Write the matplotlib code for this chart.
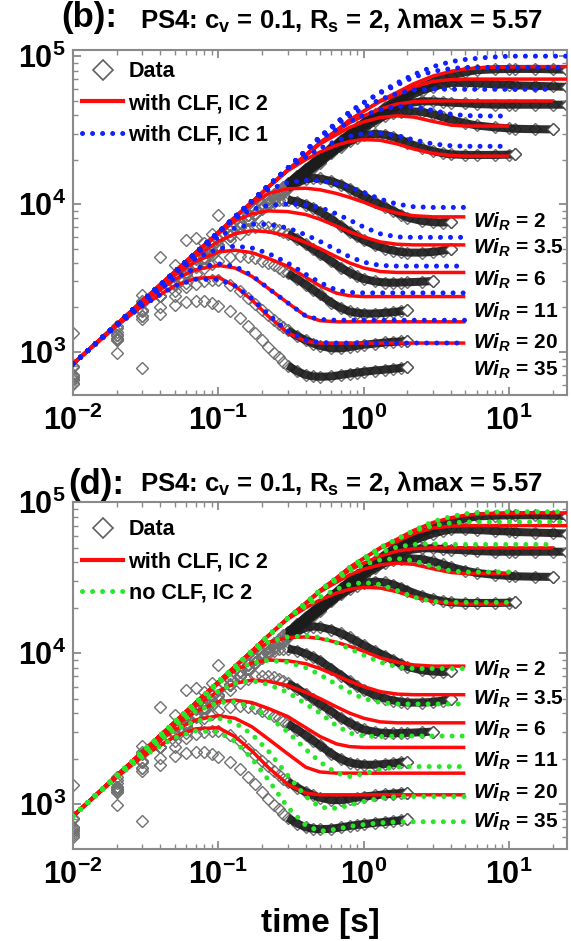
import numpy as np
import matplotlib
matplotlib.use("Agg")
import matplotlib.pyplot as plt
from matplotlib.lines import Line2D
from matplotlib.ticker import FixedLocator, FixedFormatter, LogLocator, NullFormatter

plt.rcParams['font.family'] = ['Liberation Sans', 'DejaVu Sans']
plt.rcParams['mathtext.fontset'] = 'custom'
plt.rcParams['mathtext.rm'] = 'Liberation Sans:bold'
plt.rcParams['mathtext.bf'] = 'Liberation Sans:bold'
plt.rcParams['mathtext.it'] = 'Liberation Sans:italic:bold'

# ---------------- measured start-up data (times in s) ----------------
t_data = [0.01, 0.02, 0.03, 0.04, 0.05, 0.06, 0.07, 0.08, 0.09, 0.10,
          0.12, 0.14, 0.16, 0.18, 0.20, 0.22, 0.24, 0.26, 0.28, 0.30,
          0.35, 0.40, 0.45, 0.50, 0.60, 0.70, 0.80, 0.90, 1.0, 1.2,
          1.4, 1.6, 1.8, 2.0, 2.5, 3.0, 3.5, 4.0, 5.0, 6.0,
          8.0, 10.0, 11.0, 15.0, 20.0, 25.0]

data_u1 = [810, 1500, 2200, 2700, 3300, 3800, 4300, 4800, 5300, 5800,
           6700, 7600, 8500, 9300, 10100, 10900, 11700, 12400, 13100, 13800,
           15600, 17400, 19000, 20600, 24000, 27000, 30000, 33000, 35500, 40500,
           45000, 49000, 52500, 55500, 62000, 67000, 71000, 74000, 78000, 80500,
           81500, 82000, 82000, 82000, 81500, 81000]
data_u2 = [790, 1450, 2150, 2650, 3200, 3750, 4250, 4750, 5200, 5700,
           6600, 7500, 8400, 9200, 10000, 10800, 11600, 12300, 13000, 13700,
           15500, 17200, 18800, 20400, 23800, 26800, 29700, 32500, 35000, 39500,
           43500, 47000, 50000, 53000, 58500, 62000, 64500, 66000, 66000, 65500,
           64500, 64000, 63500, 63000, 62500, 62000]
data_u3 = [1340, 1370, 2430, 4410, 3900, 5700, 5870, 5500, 6300, 8400,
           7200, 7600, 8400, 9200, 10000, 10800, 11500, 12200, 12900, 13500,
           15200, 16900, 18500, 20000, 23200, 26200, 29000, 31500, 34000, 38000,
           41500, 44500, 46500, 48000, 49500, 49500, 49000, 48500, 48000, 47500,
           47000, 47000, 47000, 47000, 47000, 47000]
data_u4 = [700, 1300, 1900, 2400, 2950, 3450, 3950, 4400, 4850, 5300,
           6200, 7100, 7900, 8700, 9500, 10300, 11000, 11700, 12400, 13100,
           14700, 16300, 17900, 19400, 22400, 25200, 27800, 30200, 32500, 36500,
           39500, 41200, 42200, 42600, 42000, 40500, 38700, 37200, 35200, 34000,
           33000, 32500, 32300, 32100, 32000]
data_u5 = [680, 1300, 1920, 2400, 2900, 3400, 3900, 4350, 4800, 5250,
           6100, 7000, 7800, 8600, 9400, 10100, 10800, 11500, 12200, 12900,
           14500, 16000, 17600, 19000, 22000, 24500, 26500, 28000, 29200, 29800,
           29400, 28400, 27200, 26000, 24000, 22800, 22100, 21700, 21500, 21500,
           21500, 21600, 21700]
data_wi2 = [700, 1300, 1900, 2400, 2900, 3400, 3900, 4350, 4800, 5250,
            6100, 7000, 7800, 8600, 9400, 10100, 10800, 11500, 12200, 12800,
            14000, 14700, 15000, 14900, 14300, 13500, 12700, 11900, 11300, 10300,
            9600, 9000, 8500, 8100, 7700, 7550, 7500, 7600]
data_wi3p5 = [680, 1250, 1740, 2400, 2900, 3400, 3850, 4300, 4750, 5200,
              6100, 7000, 7800, 8600, 9300, 9900, 10300, 10600, 10700, 10700,
              10400, 9900, 9400, 8900, 7900, 7100, 6500, 6050, 5700, 5250,
              5000, 4850, 4750, 4700, 4700, 4750, 4850, 4960]
data_wi6 = [660, 1200, 1920, 2400, 2850, 3300, 3750, 4150, 4550, 4950,
            5700, 6300, 6750, 7000, 7100, 7050, 6900, 6700, 6500, 6300,
            5800, 5350, 4950, 4600, 4100, 3700, 3450, 3250, 3120, 3000,
            2950, 2940, 2950, 2960, 2990, 3020]
data_wi11 = [645, 1230, 1740, 2400, 2600, 2950, 3350, 3700, 3950, 4150,
             4400, 4450, 4400, 4300, 4150, 4000, 3850, 3700, 3550, 3400,
             3100, 2850, 2620, 2450, 2150, 1980, 1880, 1840, 1820, 1820,
             1840, 1860, 1890, 1910]
data_wi20 = [620, 1200, 1660, 2020, 2400, 2750, 2900, 3000, 3050, 3050,
             2850, 2600, 2330, 2100, 1920, 1780, 1650, 1550, 1470, 1400,
             1280, 1200, 1140, 1100, 1060, 1060, 1080, 1100, 1120, 1140,
             1160, 1170, 1180, 1190]
data_wi35 = [605, 980, 776, 1820, 2080, 2190, 2200, 2200, 2150, 2050,
             1900, 1700, 1500, 1350, 1200, 1080, 990, 920, 860, 810,
             740, 700, 685, 680, 685, 700, 715, 725, 735, 750,
             760, 770, 780, 790]

# ---------------- model predictions (times in s) ----------------
t_model = [0.01, 0.02, 0.03, 0.05, 0.07, 0.1, 0.13, 0.17, 0.22, 0.3,
           0.4, 0.5, 0.65, 0.8, 1.0, 1.3, 1.7, 2.2, 3.0, 4.0,
           5.0, 7.0, 10.0, 15.0, 20.0, 25.0]

# with CLF, IC 2
red_u1 = [830, 1540, 2210, 3480, 4690, 6440, 8140, 10300, 13000, 17000, 21500, 26000, 31500,
          37000, 42500, 50000, 57000, 65000, 73500, 79000, 82000, 84000, 84500, 85000, 85000, 85000]
red_u2 = [830, 1540, 2210, 3480, 4690, 6440, 8140, 10300, 13000, 17000, 21500, 26000, 31500,
          37000, 42500, 49500, 55000, 62000, 67500, 69500, 70000, 70000, 70000, 70000, 70000, 70000]
red_u3 = [830, 1540, 2210, 3480, 4690, 6440, 8140, 10300, 13000, 17000, 21500, 25800, 31000,
          35500, 39500, 44000, 47500, 49200, 49800, 49800, 49800, 49800, 49800, 49800, 49800]
red_u4 = [830, 1540, 2210, 3480, 4690, 6440, 8140, 10300, 13000, 17000, 21300, 25500, 29500,
          33000, 36000, 38500, 39500, 38800, 36200, 34200, 33700, 33700, 33700]
red_u5 = [830, 1540, 2210, 3480, 4690, 6440, 8140, 10300, 13000, 16800, 20000, 22500, 25000,
          26500, 27300, 27000, 25500, 23600, 22000, 21300, 21100, 21100, 21100]
red_wi2 = [830, 1540, 2210, 3480, 4690, 6440, 8140, 10000, 11800, 12700, 12800, 12500, 11800,
           11100, 10300, 9300, 8700, 8350, 8200, 8200, 8200]
red_wi3p5 = [830, 1540, 2210, 3480, 4690, 6300, 7700, 8600, 9000, 8900, 8500, 7900, 7100,
             6500, 6000, 5550, 5350, 5300, 5300, 5300, 5300]
red_wi6 = [830, 1540, 2200, 3420, 4450, 5600, 6300, 6620, 6500, 6100, 5500, 5000, 4400,
           4000, 3700, 3500, 3450, 3450, 3450, 3450, 3450]
red_wi11 = [830, 1530, 2180, 3300, 4100, 4750, 4880, 4700, 4300, 3800, 3200, 2800, 2500,
            2400, 2370, 2370, 2370, 2370, 2370, 2370, 2370]
red_wi20 = [830, 1520, 2140, 3100, 3600, 3850, 3700, 3250, 2700, 2150, 1750, 1630, 1600,
            1600, 1600, 1600, 1600, 1600, 1600, 1600, 1600]
red_wi35 = [830, 1500, 2050, 2800, 3150, 3200, 2800, 2250, 1750, 1350, 1180, 1150, 1150,
            1150, 1150, 1150, 1150, 1150, 1150, 1150, 1150]

# with CLF, IC 1
blue_u1 = [830, 1540, 2210, 3480, 4690, 6440, 8200, 10500, 13300, 17500, 23000, 28500, 35500,
           42000, 48500, 57000, 66000, 75000, 85000, 92000, 95000, 98000, 100000, 100000, 100000, 100000]
blue_u2 = [830, 1540, 2210, 3480, 4690, 6440, 8200, 10500, 13300, 17500, 23000, 28500, 35500,
           42000, 48500, 56500, 64000, 72000, 79000, 82500, 84000, 84000, 84000, 84000, 84000, 84000]
blue_u3 = [830, 1540, 2210, 3480, 4690, 6440, 8200, 10500, 13300, 17500, 23000, 28300, 34500,
           39500, 45000, 51000, 56000, 59000, 60000, 59700, 59700, 59700, 59700, 59700, 59700]
blue_u4 = [830, 1540, 2210, 3480, 4690, 6440, 8200, 10500, 13300, 17500, 22800, 27500, 32000,
           36000, 39800, 43500, 45800, 45500, 43000, 40500, 39700, 39400, 39400]
blue_u5 = [830, 1540, 2210, 3480, 4690, 6440, 8200, 10500, 13300, 17500, 20800, 23800, 26800,
           28700, 30000, 30300, 29000, 27200, 25500, 24800, 24600, 24600, 24600]
blue_wi2 = [830, 1540, 2210, 3480, 4690, 6440, 8140, 10300, 12500, 14000, 14500, 14400, 13800,
            13000, 12000, 10800, 10000, 9600, 9500, 9500, 9500]
blue_wi3p5 = [830, 1540, 2210, 3480, 4690, 6440, 8000, 9200, 9800, 10000, 9900, 9500, 8600,
              7800, 7000, 6300, 6000, 5960, 5960, 5960, 5960]
blue_wi6 = [830, 1540, 2210, 3480, 4600, 6000, 6900, 7300, 7300, 6900, 6200, 5600, 4900,
            4400, 4050, 3850, 3810, 3810, 3810, 3810, 3810]
blue_wi11 = [830, 1540, 2200, 3400, 4300, 5000, 5200, 5050, 4650, 4000, 3350, 2950, 2620,
             2530, 2510, 2510, 2510, 2510, 2510, 2510, 2510]
blue_wi20 = [830, 1530, 2160, 3150, 3700, 3950, 3800, 3300, 2700, 2150, 1750, 1660, 1640,
             1640, 1640, 1640, 1640, 1640, 1640, 1640, 1640]
blue_wi35 = [830, 1500, 2050, 2800, 3100, 3100, 2800, 2300, 1800, 1380, 1200, 1160, 1150,
             1150, 1150, 1150, 1150, 1150, 1150, 1150, 1150]

# no CLF, IC 2
green_u1 = [830, 1540, 2210, 3480, 4690, 6440, 8140, 10300, 13000, 17000, 21500, 26000, 31500,
            37000, 42500, 50000, 57000, 65000, 74500, 80500, 84000, 86000, 86500, 86500, 86500, 86500]
green_u2 = [830, 1540, 2210, 3480, 4690, 6440, 8140, 10300, 13000, 17000, 21500, 26000, 31500,
            37000, 42500, 50000, 57000, 64500, 70000, 73000, 74000, 74000, 74000, 74000, 74000, 74000]
green_u3 = [830, 1540, 2210, 3480, 4690, 6440, 8140, 10300, 13000, 17000, 21500, 26000, 31500,
            36500, 41000, 46500, 50500, 52500, 53000, 52500, 52500, 52500, 52500, 52500, 52500]
green_u4 = [830, 1540, 2210, 3480, 4690, 6440, 8140, 10300, 13000, 17000, 21500, 26000, 30500,
            35000, 38500, 41500, 42400, 41000, 37500, 35000, 34500, 34500, 34500]
green_u5 = [830, 1540, 2210, 3480, 4690, 6440, 8140, 10300, 13000, 17000, 20500, 23500, 26500,
            28500, 29400, 28500, 26000, 23500, 22000, 21700, 21700, 21700, 21700]
green_wi2 = [830, 1540, 2210, 3480, 4690, 6440, 8140, 10000, 11800, 12800, 13000, 12700, 11700,
             10700, 9700, 8700, 8100, 7900, 7900, 7900, 7900]
green_wi3p5 = [830, 1540, 2210, 3480, 4690, 6300, 7700, 8600, 8950, 8700, 8000, 7200, 6200,
               5500, 5000, 4700, 4600, 4600, 4600, 4600, 4600]
green_wi6 = [830, 1540, 2200, 3420, 4450, 5600, 6300, 6550, 6200, 5500, 4600, 4000, 3300,
             2950, 2820, 2800, 2820, 2820, 2820, 2820, 2820]
green_wi11 = [830, 1530, 2180, 3300, 4100, 4700, 4750, 4400, 3800, 3000, 2300, 1900, 1600,
              1520, 1580, 1700, 1760, 1770, 1770, 1770, 1770]
green_wi20 = [830, 1520, 2140, 3100, 3550, 3700, 3450, 2900, 2250, 1550, 1120, 950, 935,
              980, 1040, 1090, 1120, 1120, 1120, 1120, 1120]
green_wi35 = [830, 1500, 2050, 2750, 3050, 3000, 2600, 2000, 1450, 950, 720, 660, 680,
              710, 730, 750, 760, 762, 762, 762, 762]

wi_labels = ['2', '3.5', '6', '11', '20', '35']

data_sets = [data_u1, data_u2, data_u3, data_u4, data_u5,
             data_wi2, data_wi3p5, data_wi6, data_wi11, data_wi20, data_wi35]
red_sets = [red_u1, red_u2, red_u3, red_u4, red_u5,
            red_wi2, red_wi3p5, red_wi6, red_wi11, red_wi20, red_wi35]
blue_sets = [blue_u1, blue_u2, blue_u3, blue_u4, blue_u5,
             blue_wi2, blue_wi3p5, blue_wi6, blue_wi11, blue_wi20, blue_wi35]
green_sets = [green_u1, green_u2, green_u3, green_u4, green_u5,
              green_wi2, green_wi3p5, green_wi6, green_wi11, green_wi20, green_wi35]

RED = '#ff0a0a'
BLUE = '#1020ff'
GREEN = '#2ae62a'
DOTS = (0, (0.01, 2.0))
SPINE = '#8a8a8a'


def draw_data(ax):
    for vals in data_sets:
        t = np.array(t_data[:len(vals)])
        v = np.array(vals, dtype=float)
        ax.plot(t, v, ls='none', marker='D', ms=6.5, mfc='none', mec='#707070',
                mew=1.0, zorder=1)
        dense = t >= 0.3
        ax.plot(t[dense], v[dense], color='#1c1c1c', lw=5.8, alpha=0.92,
                solid_capstyle='butt', zorder=1.5)
        ax.plot(t[-1:], v[-1:], ls='none', marker='D', ms=6.5, mfc='white',
                mec='#505050', mew=1.0, zorder=1.6)


def draw_model(ax, sets, color, dotted):
    for vals in sets:
        t = t_model[:len(vals)]
        if dotted:
            ax.plot(t, vals, color=color, lw=3.6, ls=DOTS, dash_capstyle='round', zorder=4)
        else:
            ax.plot(t, vals, color=color, lw=2.5, solid_capstyle='butt', zorder=3)


def style_axes(ax, ylim):
    ax.set_xscale('log')
    ax.set_yscale('log')
    ax.set_xlim(0.01, 25)
    ax.set_ylim(*ylim)
    for s in ax.spines.values():
        s.set_color(SPINE)
        s.set_linewidth(1.5)
    ax.xaxis.set_major_locator(FixedLocator([1e-2, 1e-1, 1e0, 1e1]))
    ax.xaxis.set_major_formatter(FixedFormatter([r'$10^{-2}$', r'$10^{-1}$', r'$10^{0}$', r'$10^{1}$']))
    ax.yaxis.set_major_locator(FixedLocator([1e3, 1e4, 1e5]))
    ax.yaxis.set_major_formatter(FixedFormatter([r'$10^{3}$', r'$10^{4}$', r'$10^{5}$']))
    ax.xaxis.set_minor_locator(LogLocator(base=10, subs=np.arange(2, 10)))
    ax.yaxis.set_minor_locator(LogLocator(base=10, subs=np.arange(2, 10)))
    ax.xaxis.set_minor_formatter(NullFormatter())
    ax.yaxis.set_minor_formatter(NullFormatter())
    ax.tick_params(which='both', direction='in', top=True, right=True, color=SPINE)
    ax.tick_params(which='major', length=6, width=1.3, labelsize=22, pad=5)
    ax.tick_params(which='minor', length=3.5, width=1.0)
    ax.tick_params(axis='x', which='major', pad=8)


def wi_texts(ax, ypos):
    for lab, yy in zip(wi_labels, ypos):
        ax.text(0.81, yy, r'$Wi_R$ = ' + lab, transform=ax.transAxes, fontsize=15,
                fontweight='bold', va='center', ha='left', zorder=6)


fig = plt.figure(figsize=(5.71, 9.41), dpi=100)
ax_b = fig.add_axes([0.1278, 0.5802, 0.8651, 0.3666])
ax_d = fig.add_axes([0.1278, 0.0978, 0.8651, 0.3688])

# panel (b)
draw_data(ax_b)
draw_model(ax_b, red_sets, RED, False)
draw_model(ax_b, blue_sets, BLUE, True)
style_axes(ax_b, (512, 1.1e5))
wi_texts(ax_b, [0.501, 0.426, 0.333, 0.241, 0.151, 0.072])

# panel (d)
draw_data(ax_d)
draw_model(ax_d, red_sets, RED, False)
draw_model(ax_d, green_sets, GREEN, True)
style_axes(ax_d, (503, 1.005e5))
wi_texts(ax_d, [0.516, 0.432, 0.343, 0.254, 0.161, 0.078])
ax_d.set_xlabel('time [s]', fontsize=24, fontweight='bold', labelpad=12)

h_data = Line2D([], [], ls='none', marker='D', ms=10, mfc='none', mec='#606060', mew=1.2)
h_red = Line2D([], [], color=RED, lw=3.0)
h_blue = Line2D([], [], color=BLUE, lw=3.6, ls=DOTS, dash_capstyle='round')
h_green = Line2D([], [], color=GREEN, lw=3.6, ls=DOTS, dash_capstyle='round')
leg_kw = dict(loc='upper left', frameon=False, handlelength=1.9, handletextpad=0.25,
              labelspacing=0.5, borderaxespad=0.0, borderpad=0.2,
              prop={'weight': 'bold', 'size': 15.5})
ax_b.legend([h_data, h_red, h_blue], ['Data', 'with CLF, IC 2', 'with CLF, IC 1'],
            bbox_to_anchor=(0.01, 0.98), **leg_kw)
ax_d.legend([h_data, h_red, h_green], ['Data', 'with CLF, IC 2', 'no CLF, IC 2'],
            bbox_to_anchor=(0.01, 0.962), **leg_kw)

title_rest = r'PS4: c$_\mathrm{v}$ = 0.1, R$_\mathrm{s}$ = 2, λmax = 5.57'
fig.text(0.108, 1 - 18 / 941, '(b):', fontsize=25, fontweight='bold', va='center', ha='left')
fig.text(0.245, 1 - 21 / 941, title_rest, fontsize=18.5, fontweight='bold', va='center', ha='left')
fig.text(0.119, 1 - 484 / 941, '(d):', fontsize=25, fontweight='bold', va='center', ha='left')
fig.text(0.245, 1 - 484 / 941, title_rest, fontsize=18.5, fontweight='bold', va='center', ha='left')

fig.savefig('out.png', dpi=100)
